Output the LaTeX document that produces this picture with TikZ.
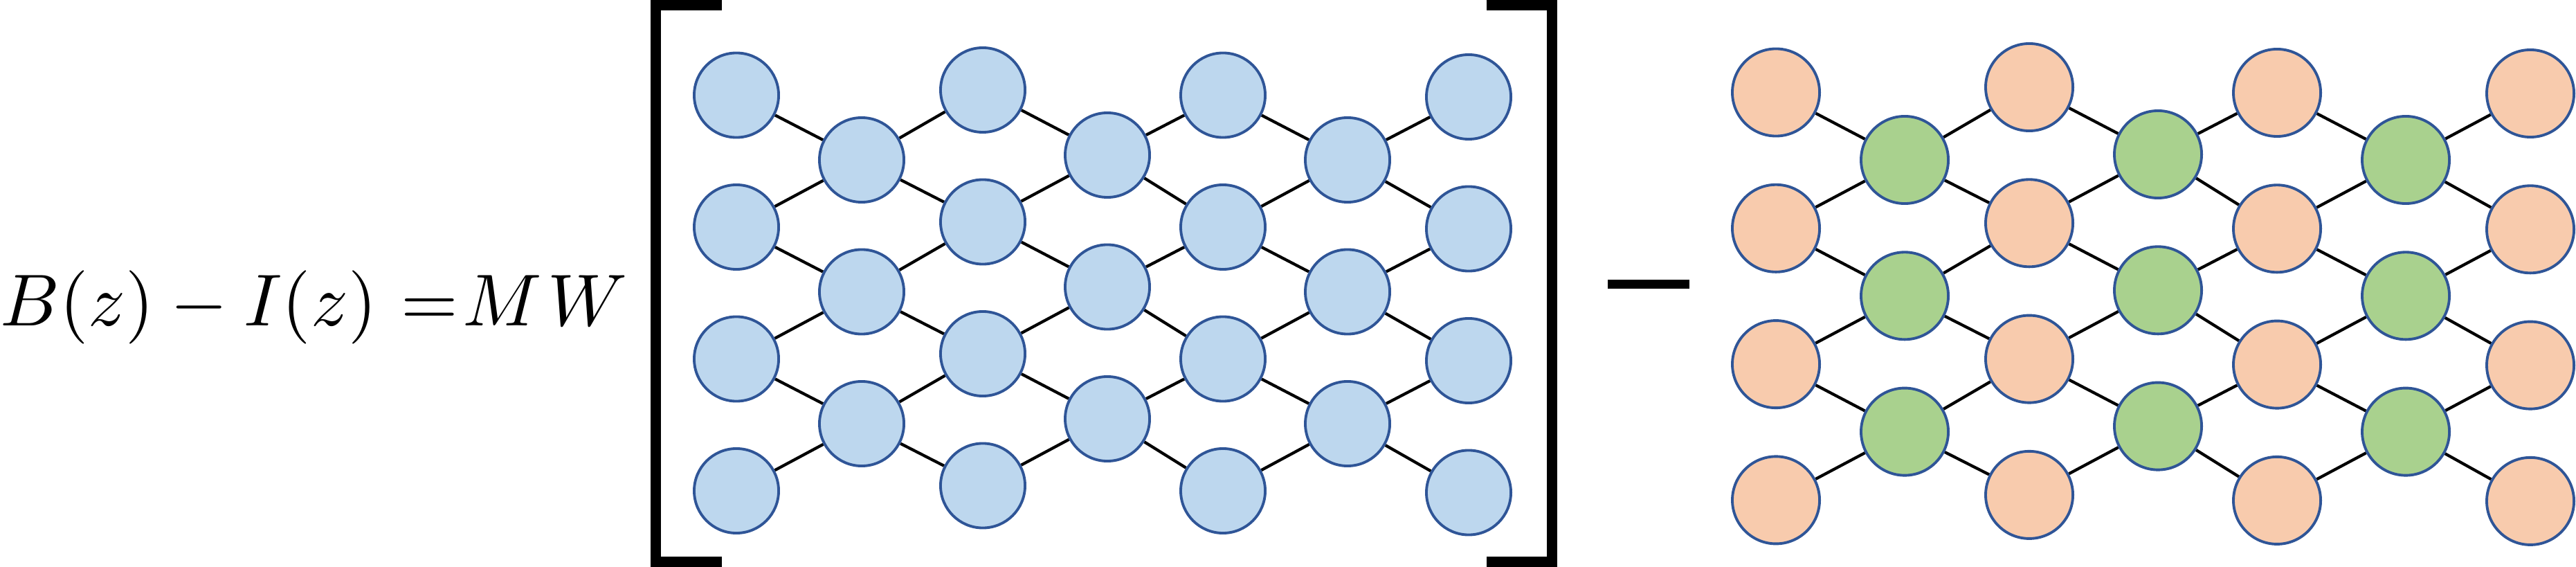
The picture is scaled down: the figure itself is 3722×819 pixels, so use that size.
\documentclass[tikz,border=0pt]{standalone}
\usepackage{amsmath}
\usepackage{tikz}
\usetikzlibrary{backgrounds}

\definecolor{ballblue}{HTML}{BDD7EE}
\definecolor{ballpeach}{HTML}{F8CBAD}
\definecolor{ballgreen}{HTML}{A9D18E}
\definecolor{rimblue}{HTML}{2F5597}

\begin{document}
\begin{tikzpicture}[x=0.01cm, y=-0.01cm,
    ball/.style={circle, draw=rimblue, line width=1.1pt, inner sep=0pt},
    lball/.style={ball, fill=ballblue, minimum size=1.22cm},
    rball/.style={ball, minimum size=1.26cm},
    link/.style={line width=1.2pt},
    bracket/.style={line width=0.15cm, line join=miter}]
    \useasboundingbox (0,0) rectangle (3722,819);

    % Equation
    \node[anchor=base west, inner sep=0pt, scale=3.02] (EQ) at (-1.5,470.5)
        {$B(z)-I(z)\mkern1mu=\mkern-4mu M\mkern1.5mu W$};

    % Left lattice
    \foreach \c/\x/\y/\n in {1/1064/137.5/4, 2/1245/231/3, 3/1420/130/4, 4/1600/224/3,
                             5/1767/137.5/4, 6/1947/231/3, 7/2122/140/4}
        \foreach \r in {1,...,\n}
            \node[lball] (L\c\r) at (\x,{\y+190.5*(\r-1)}) {};

    % Brackets
    \draw[bracket] (1043,7.5) -- (947.5,7.5) -- (947.5,811.5) -- (1043,811.5);
    \draw[bracket] (2147.5,7.5) -- (2242.5,7.5) -- (2242.5,811.5) -- (2147.5,811.5);

    % Minus
    \node[fill=black, minimum width=1.18cm, minimum height=0.13cm, inner sep=0pt] (MINUS) at (2382,410.8) {};

    % Right lattice
    \foreach \c/\x/\y/\n/\f in {1/2566/133.5/4/ballpeach, 2/2752/231/3/ballgreen,
                                3/2932/126/4/ballpeach, 4/3118/223/3/ballgreen,
                                5/3290/134/4/ballpeach, 6/3476/231/3/ballgreen,
                                7/3656/135/4/ballpeach}
        \foreach \r in {1,...,\n}
            \node[rball, fill=\f] (R\c\r) at (\x,{\y+196.3*(\r-1)}) {};

    % Links
    \begin{scope}[on background layer]
        \foreach \o/\e in {1/2, 3/2, 3/4, 5/4, 5/6, 7/6}
            \foreach \s/\t in {1/2, 2/3, 3/4} {
                \draw[link] (L\o\s) -- (L\e\s);
                \draw[link] (L\e\s) -- (L\o\t);
                \draw[link] (R\o\s) -- (R\e\s);
                \draw[link] (R\e\s) -- (R\o\t);
            }
    \end{scope}
\end{tikzpicture}
\end{document}
